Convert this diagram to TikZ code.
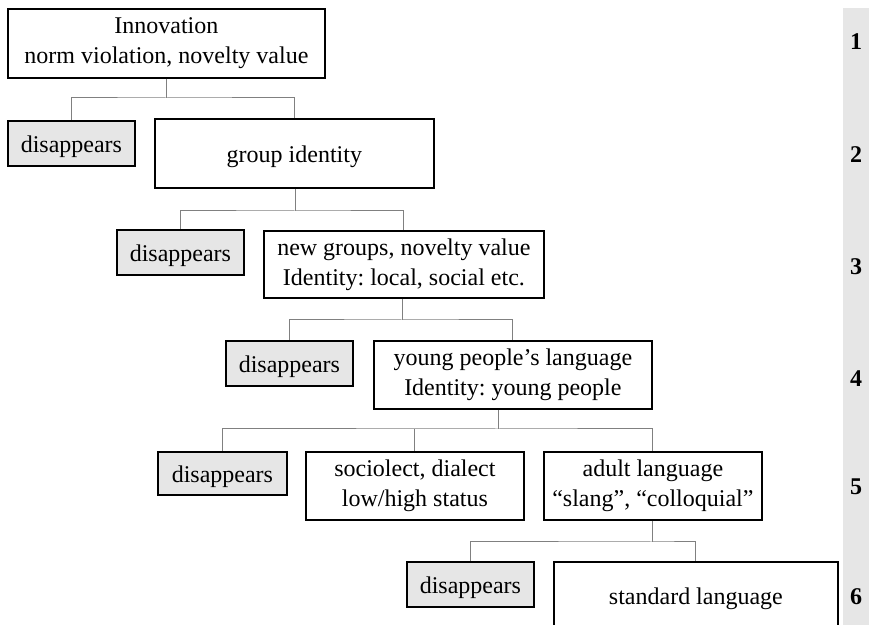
\documentclass[tikz,border=0pt]{standalone}
\usepackage{fontspec}
\setmainfont{Liberation Serif}
\definecolor{Shade}{HTML}{E6E6E6}
\definecolor{Strip}{HTML}{E6E6E6}
\definecolor{Wire}{HTML}{808080}
\frenchspacing

\begin{document}
\begin{tikzpicture}[
  x=0.5pt, y=-0.5pt,
  stage/.style={draw=black,line width=0.9pt,fill=white,anchor=north west,inner sep=0pt,minimum height=34pt,align=center,
    font=\fontsize{12}{15}\selectfont,execute at begin node={\rule{0pt}{11.5pt}}},
  gone/.style={stage,fill=Shade,minimum width=63.5pt,minimum height=22.5pt},
  link/.style={draw=Wire,line width=0.5pt},
  level/.style={font=\fontsize{12}{14}\selectfont\bfseries}
]
  \useasboundingbox (0,0) rectangle (869,625);
  \clip (0,0) rectangle (869,625);
  \fill[Strip] (843,8) rectangle (869,625);

  \node[stage,minimum width=158.5pt,minimum height=34.5pt] (inno) at (7,8) {Innovation\\norm violation, novelty value};
  \node[gone] (gone1) at (7,120) {disappears};
  \node[stage,minimum width=139.5pt,minimum height=34.5pt] (group) at (154,118) {group identity};
  \node[gone] (gone2) at (116,229) {disappears};
  \node[stage,minimum width=140pt,minimum height=33.5pt] (newgrp) at (263,230) {new groups, novelty value\\Identity: local, social etc.};
  \node[gone] (gone3) at (225,340) {disappears};
  \node[stage,minimum width=139pt] (young) at (373,340) {young people’s language\\Identity: young people};
  \node[gone,minimum width=64.5pt,minimum height=21.5pt] (gone4) at (157,451) {disappears};
  \node[stage,minimum width=109pt] (socio) at (305,451) {sociolect, dialect\\low/high status};
  \node[stage,minimum width=109pt] (adult) at (543,451) {adult language\\“slang”, “colloquial”};
  \node[gone] (gone5) at (406,561) {disappears};
  \node[stage,minimum width=142pt] (std) at (553,561) {standard language};

  % branch points
  \coordinate (j1) at (166,98);
  \coordinate (j2) at (295,211);
  \coordinate (j3) at (402,320);
  \coordinate (j4) at (498,429);
  \coordinate (j5) at (652,542);

  \draw[link] (inno.south -| j1) -- (j1);
  \draw[link] (gone1.north) |- (j1) -| (group.north);
  \draw[link] (group.south -| j2) -- (j2);
  \draw[link] (gone2.north) |- (j2) -| (newgrp.north);
  \draw[link] (newgrp.south -| j3) -- (j3);
  \draw[link] (gone3.north) |- (j3) -| (young.north);
  \draw[link] (young.south -| j4) -- (j4);
  \draw[link] (gone4.north) |- (j4) -| (adult.north);
  \draw[link] (socio.north) -- (socio.north |- j4);
  \draw[link] (adult.south -| j5) -- (j5);
  \draw[link] (gone5.north) |- (j5) -| (std.north);

  \node[level] (n1) at (856,42) {1};
  \node[level] (n2) at (856,155) {2};
  \node[level] (n3) at (856,267) {3};
  \node[level] (n4) at (856,379) {4};
  \node[level] (n5) at (856,487) {5};
  \node[level] (n6) at (856,597) {6};
\end{tikzpicture}
\end{document}
